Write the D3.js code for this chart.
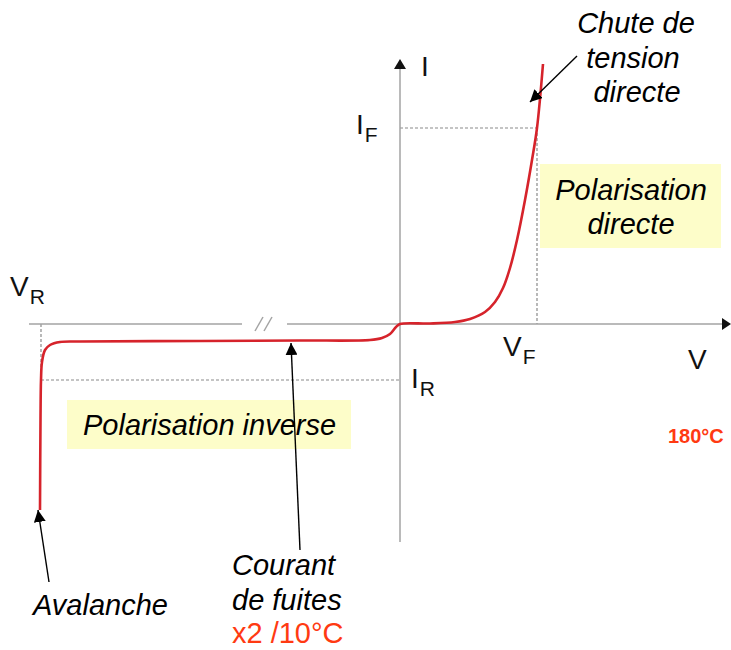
<!DOCTYPE html>
<html>
<head>
<meta charset="utf-8">
<script src="https://cdn.jsdelivr.net/npm/d3@7"></script>
<style>
  body { margin: 0; background: #fff; }
  svg { display: block; font-family: "Liberation Sans", Arial, sans-serif; }
</style>
</head>
<body>
<svg width="731" height="650"></svg>
<script>
// courbe caractéristique de la diode (unités arbitraires)
const curveV = [-36.0, -35.95, -35.9, -35.8, -35.5, -35.0, -34.0, -32.0, -20.0, -10.0, -3.0, -1.8, -1.0, -0.4, 0,
                3.0, 5.5, 7.0, 8.5, 9.5, 10.3, 11.0, 11.7, 12.5, 13.2, 13.7, 14.3];
const curveI = [-18.6, -9.6, -5.6, -3.8, -2.6, -2.1, -1.8, -1.75, -1.7, -1.65, -1.6, -1.4, -1.0, -0.3, 0,
                0.05, 0.2, 0.5, 1.2, 2.2, 3.6, 5.6, 8.4, 12.4, 16.4, 19.6, 26.0];

// points remarquables
const VF = 13.7, IF = 19.6;
const VR = -35.9, IR = -5.6;

const vDomain = [-37, 33];
const iDomain = [-21.6, 26.4];

var svg = d3.select("svg");
const g = svg.append("g");

var x = d3.scaleLinear().domain(vDomain).range([30, 730]);
var y = d3.scaleLinear().domain(iDomain).range([540, 60]);

const axisColor = "#a3a3a3";
const red = "#d6232b";
const orange = "#ff3a12";

// pointillés IF / VF / IR / VR
const dashed = [
  [[0, IF], [VF, IF]],
  [[VF, IF], [VF, 0]],
  [[VR, 0], [VR, IR]],
  [[VR, IR], [0, IR]]
];
g.selectAll("line.dash")
  .data(dashed)
  .enter()
  .append("line")
  .attr("class", "dash")
  .attr("x1", (d) => x(d[0][0]))
  .attr("y1", (d) => y(d[0][1]))
  .attr("x2", (d) => x(d[1][0]))
  .attr("y2", (d) => y(d[1][1]))
  .attr("stroke", "#8a8a8a")
  .attr("stroke-width", 1.2)
  .attr("stroke-dasharray", "3,2");

// cadres jaunes
g.append("rect").attr("x", 540).attr("y", 164).attr("width", 181).attr("height", 84).attr("fill", "#fdfdc9");
g.append("rect").attr("x", 67).attr("y", 400).attr("width", 284).attr("height", 49).attr("fill", "#fdfdc9");

// axe horizontal (avec coupure //)
const x0 = x(0), y0 = y(0);
g.append("line").attr("x1", 29).attr("y1", y0).attr("x2", 242).attr("y2", y0)
  .attr("stroke", axisColor).attr("stroke-width", 1.5);
g.append("line").attr("x1", 287).attr("y1", y0).attr("x2", 724).attr("y2", y0)
  .attr("stroke", axisColor).attr("stroke-width", 1.5);
g.append("path").attr("d", "M722," + (y0 - 6) + " L731," + y0 + " L722," + (y0 + 6) + "Z").attr("fill", "#111");
[255, 264].forEach(function (bx) {
  g.append("line").attr("x1", bx).attr("y1", y0 + 7).attr("x2", bx + 8).attr("y2", y0 - 7)
    .attr("stroke", axisColor).attr("stroke-width", 1.5);
});

// axe vertical
g.append("line").attr("x1", x0).attr("y1", 542).attr("x2", x0).attr("y2", 66)
  .attr("stroke", axisColor).attr("stroke-width", 1.5);
g.append("path").attr("d", "M" + (x0 - 6) + ",69 L" + x0 + ",59 L" + (x0 + 6) + ",69Z").attr("fill", "#111");

// la courbe
var pts = curveV.map((v, i) => [v, curveI[i]]);
var line = d3.line()
  .x((d) => x(d[0]))
  .y((d) => y(d[1]))
  .curve(d3.curveCatmullRom.alpha(0.5));
g.append("path")
  .attr("d", line(pts))
  .attr("fill", "none")
  .attr("stroke", red)
  .attr("stroke-width", 2.6);

// flèches d'annotation
svg.append("defs").append("marker")
  .attr("id", "head")
  .attr("viewBox", "0 0 10 10")
  .attr("refX", 10).attr("refY", 5)
  .attr("markerWidth", 12).attr("markerHeight", 12)
  .attr("markerUnits", "userSpaceOnUse")
  .attr("orient", "auto")
  .append("path").attr("d", "M0,0 L10,5 L0,10Z").attr("fill", "#000");

const arrows = [
  [[577, 56], [530, 102]],
  [[49, 582], [38, 510]],
  [[300, 550], [291, 343]]
];
g.selectAll("line.arrow")
  .data(arrows)
  .enter()
  .append("line")
  .attr("class", "arrow")
  .attr("x1", (d) => d[0][0]).attr("y1", (d) => d[0][1])
  .attr("x2", (d) => d[1][0]).attr("y2", (d) => d[1][1])
  .attr("stroke", "#000")
  .attr("stroke-width", 1.4)
  .attr("marker-end", "url(#head)");

// étiquettes des axes
function label(tx, ty, main, sub) {
  var t = g.append("text").attr("x", tx).attr("y", ty).attr("font-size", 28).attr("fill", "#111").text(main);
  if (sub) {
    t.append("tspan").attr("font-size", 21).attr("dy", 8).attr("dx", 1).text(sub);
  }
}
label(421, 76, "I");
label(356, 134, "I", "F");
label(10, 296, "V", "R");
label(503, 356, "V", "F");
label(688, 369, "V");
label(411, 388, "I", "R");

// textes en italique
function italic(tx, ty, str, anchor, color) {
  g.append("text").attr("x", tx).attr("y", ty)
    .attr("font-size", 29).attr("font-style", "italic")
    .attr("text-anchor", anchor || "start")
    .attr("fill", color || "#000").text(str);
}
italic(636, 33, "Chute de", "middle");
italic(633, 68, "tension", "middle");
italic(637, 102, "directe", "middle");
italic(631, 200, "Polarisation", "middle");
italic(631, 234, "directe", "middle");
italic(83, 435, "Polarisation inverse");
italic(33, 615, "Avalanche");
italic(232, 575, "Courant");
italic(232, 610, "de fuites");

g.append("text").attr("x", 232).attr("y", 643).attr("font-size", 29).attr("fill", orange).text("x2 /10°C");
g.append("text").attr("x", 668).attr("y", 443).attr("font-size", 20).attr("font-weight", "bold").attr("fill", orange).text("180°C");
</script>
</body>
</html>
